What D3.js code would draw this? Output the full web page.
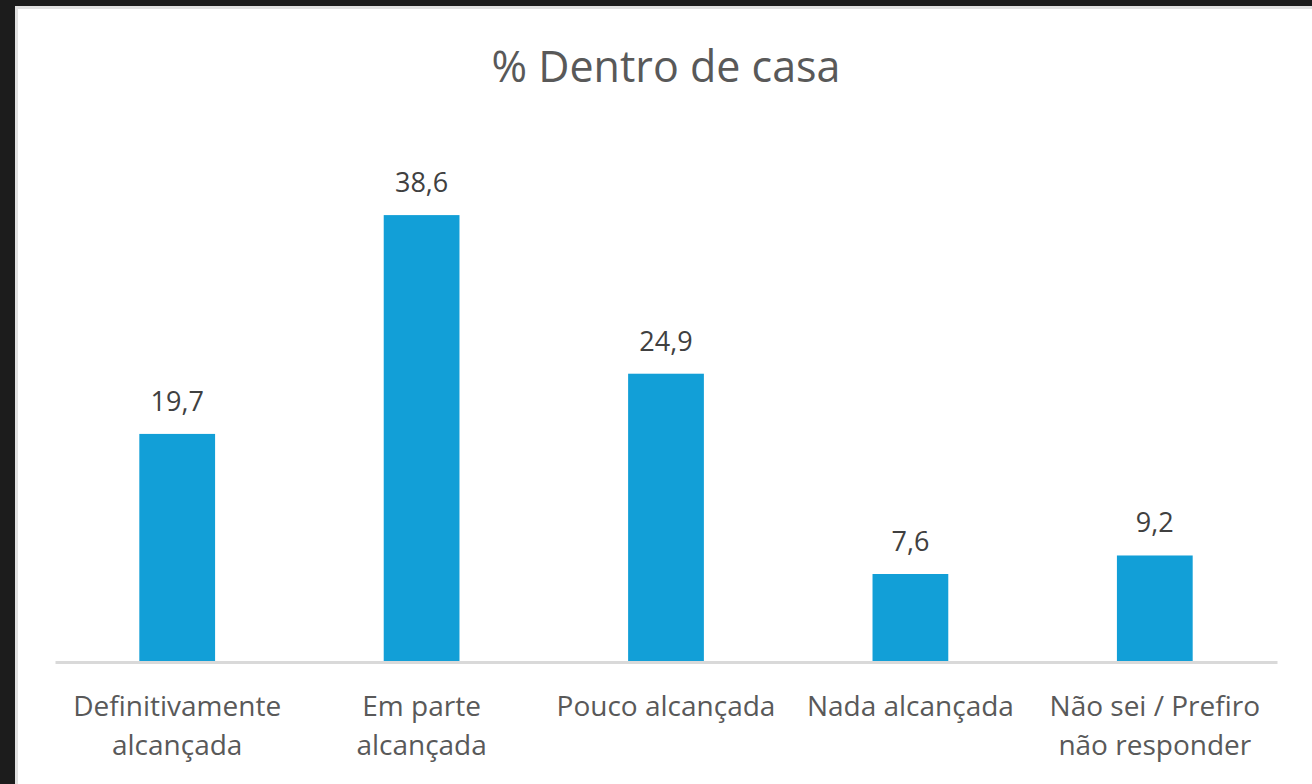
<!DOCTYPE html>
<html>
<head>
<meta charset="utf-8">
<script src="https://cdn.jsdelivr.net/npm/d3@7"></script>
<style>
	html, body { margin: 0; padding: 0; background: #1c1c1c; }
	svg { display: block; }
	text { font-family: "Open Sans", "Noto Sans", sans-serif; }
</style>
</head>
<body>
<svg id="chart" width="1312" height="784"></svg>
<script>
(function() {

// DATA
	var categories = [
		["Definitivamente", "alcançada"],
		["Em parte", "alcançada"],
		["Pouco alcançada"],
		["Nada alcançada"],
		["Não sei / Prefiro", "não responder"]
	];
	var values = [19.7, 38.6, 24.9, 7.6, 9.2];
	var title = "% Dentro de casa";

// LAYOUT
	var svg = d3.select('#chart');
	var plot = { left: 55, right: 1277, top: 141, bottom: 662 };
	var barColor = '#129fd7';
	var textColor = '#595959';

	// panel
	svg.append('rect')
		.attr('x', 16.5).attr('y', 7.5)
		.attr('width', 1320).attr('height', 800)
		.attr('fill', '#fff')
		.attr('stroke', '#e1e1e1')
		.attr('stroke-width', 3);

	var x = d3.scaleBand()
		.domain(d3.range(values.length))
		.range([plot.left, plot.right])
		.paddingInner(0.69)
		.paddingOuter(0.345);

	var y = d3.scaleLinear()
		.domain([0, 45])
		.range([plot.bottom, plot.top]);

	svg.append('text')
		.attr('x', 666)
		.attr('y', 82)
		.attr('text-anchor', 'middle')
		.attr('fill', textColor)
		.style('font-size', '43px')
		.text(title);

	svg.selectAll('.bar')
		.data(values)
		.enter()
		.append('rect')
		.attr('class', 'bar')
		.attr('x', function(d, i) { return x(i); })
		.attr('y', function(d) { return y(d); })
		.attr('width', x.bandwidth())
		.attr('height', function(d) { return y(0) - y(d); })
		.attr('fill', barColor);

	svg.selectAll('.val')
		.data(values)
		.enter()
		.append('text')
		.attr('class', 'val')
		.attr('x', function(d, i) { return x(i) + x.bandwidth() / 2; })
		.attr('y', function(d) { return y(d) - 23; })
		.attr('text-anchor', 'middle')
		.attr('fill', '#404040')
		.style('font-size', '27px')
		.text(function(d) { return String(d).replace('.', ','); });

	// axis
	var axis = svg.append('g')
		.attr('transform', 'translate(0,' + plot.bottom + ')')
		.call(d3.axisBottom(x).tickSize(0).tickFormat(''));
	axis.select('.domain').attr('stroke', '#d9d9d9').attr('stroke-width', 3);

	var labels = svg.selectAll('.cat')
		.data(categories)
		.enter()
		.append('text')
		.attr('class', 'cat')
		.attr('text-anchor', 'middle')
		.attr('fill', textColor)
		.style('font-size', '28px');

	labels.selectAll('tspan')
		.data(function(d, i) { return d.map(function(s) { return { s: s, i: i }; }); })
		.enter()
		.append('tspan')
		.attr('x', function(d) { return x(d.i) + x.bandwidth() / 2; })
		.attr('y', function(d, j) { return 716 + j * 39; })
		.text(function(d) { return d.s; });

})()
</script>
</body>
</html>
